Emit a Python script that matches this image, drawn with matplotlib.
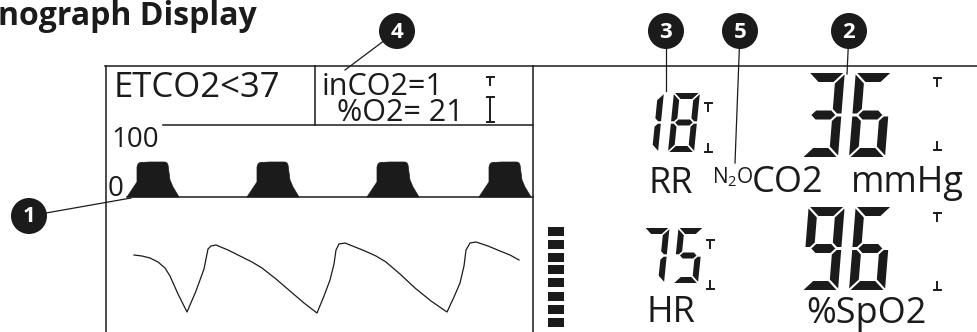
import matplotlib.pyplot as plt
from matplotlib.patches import Polygon, Circle

# ---- values shown on the display ----
title = "Capnograph Display"
etco2_alarm = "ETCO2<37"
inco2_text = "inCO2=1"
o2_text = "%O2= 21"
scale_top = "100"
scale_zero = "0"
rr_value = "18"
co2_value = "36"
hr_value = "75"
spo2_value = "96"
callouts = ["1", "2", "3", "4", "5"]

# capnogram breaths (start of each breath) and one breath profile
capno_starts = [127, 247, 367, 479]
breath_dx = [0, 6, 10, 10, 11, 13, 23, 38, 40, 41, 43, 46, 52]
breath_y = [197, 188, 182, 167, 164, 162.5, 162, 162, 163, 165, 180, 187, 197]

# pleth waveform
pleth_x = [134, 142, 150, 158, 165, 170, 178, 187, 196, 204, 206, 208, 211, 216, 228, 240,
           252, 262, 276, 290, 304, 317, 324, 330, 334, 336, 339, 345, 355, 365, 376, 386,
           400, 415, 431, 447, 454, 460, 464, 466, 470, 476, 488, 500, 510, 519]
pleth_y = [255, 256, 258, 262, 268, 276, 294, 312, 291, 269, 259, 249, 246, 245, 250, 256,
           262, 268, 279, 291, 303, 313, 296, 280, 264, 250, 244, 243, 247, 251, 256, 262,
           274, 288, 301, 312, 297, 283, 266, 250, 243, 242, 246, 251, 255, 260]

# pulse strength bar graph
strength_bars = [227, 240, 253, 265, 278, 292, 305, 318]

INK = "#1b1b1b"
FONT = ["Open Sans", "DejaVu Sans"]
plt.rcParams["mathtext.fontset"] = "custom"
plt.rcParams["mathtext.rm"] = "Open Sans"

fig = plt.figure(figsize=(9.77, 3.32), dpi=100)
ax = fig.add_axes([0, 0, 1, 1])
ax.set_xlim(0, 977)
ax.set_ylim(332, 0)
ax.axis("off")


def seven_seg(ch, x0, ybot, w, h, t, g=1.5, slant=0.1):
    ht = t / 2
    segs = {
        "a": [(g, h), (w - g, h), (w - t - g, h - t), (t + g, h - t)],
        "d": [(g, 0), (w - g, 0), (w - t - g, t), (t + g, t)],
        "g": [(ht + g, h / 2), (t + g, h / 2 + ht), (w - t - g, h / 2 + ht),
              (w - ht - g, h / 2), (w - t - g, h / 2 - ht), (t + g, h / 2 - ht)],
        "f": [(0, h / 2 + g), (0, h - g), (t, h - t - g), (t, h / 2 + ht + g), (ht, h / 2 + g)],
        "e": [(0, g), (t, t + g), (t, h / 2 - ht - g), (ht, h / 2 - g), (0, h / 2 - g)],
        "b": [(w, h / 2 + g), (w, h - g), (w - t, h - t - g), (w - t, h / 2 + ht + g), (w - ht, h / 2 + g)],
        "c": [(w, g), (w - t, t + g), (w - t, h / 2 - ht - g), (w - ht, h / 2 - g), (w, h / 2 - g)],
    }
    on = {"0": "abcdef", "1": "bc", "2": "abged", "3": "abgcd", "4": "fgbc",
          "5": "afgcd", "6": "afgedc", "7": "abc", "8": "abcdefg", "9": "abcdfg"}[ch]
    for s in on:
        pts = [(x0 + u + slant * v, ybot - v) for u, v in segs[s]]
        ax.add_patch(Polygon(pts, closed=True, fc=INK, ec="none"))


def limit_marks(x, top, bot, size=8, bar=3.5):
    # small "T" and upside-down T alarm limit markers
    ax.plot([x - bar, x + bar], [top, top], color=INK, lw=1.4)
    ax.plot([x, x], [top, top + size], color=INK, lw=1.4)
    ax.plot([x - bar, x + bar], [bot, bot], color=INK, lw=1.4)
    ax.plot([x, x], [bot, bot - size], color=INK, lw=1.4)


# title: the picture is cropped so that only "nograph Display" shows
renderer = fig.canvas.get_renderer()
probe = ax.text(0, 0, title[3:], fontsize=21, fontweight="bold", family=FONT)
shown_w = probe.get_window_extent(renderer).width
probe.remove()
tsize = 21 * 259 / shown_w
probe = ax.text(0, 0, title[:3], fontsize=tsize, fontweight="bold", family=FONT)
cut_w = probe.get_window_extent(renderer).width
probe.remove()
ax.text(-cut_w - 2, 25, title, ha="left", va="baseline", fontsize=tsize,
        fontweight="bold", family=FONT, color=INK)

# frame lines
lw = 1.1
ax.plot([105, 977], [66, 66], color=INK, lw=lw)
ax.plot([106, 106], [66, 332], color=INK, lw=lw)
ax.plot([315, 315], [66, 125], color=INK, lw=lw)
ax.plot([163, 533], [125, 125], color=INK, lw=lw)
ax.plot([533, 533], [66, 332], color=INK, lw=lw)
ax.plot([127, 533], [197, 197], color=INK, lw=lw)

# top-left texts
ax.text(114, 97, etco2_alarm, fontsize=25, family=FONT, color=INK, va="baseline")
ax.text(322, 95, inco2_text, fontsize=22, family=FONT, color=INK, va="baseline")
ax.text(337, 121, o2_text, fontsize=22, family=FONT, color=INK, va="baseline")
ax.plot([486.5, 493.5], [77, 77], color=INK, lw=1.4)
ax.plot([490, 490], [77, 85], color=INK, lw=1.4)
ax.plot([486.5, 493.5], [97, 97], color=INK, lw=1.4)
ax.plot([490, 490], [97, 122], color=INK, lw=1.4)
ax.plot([486.5, 493.5], [122, 122], color=INK, lw=1.4)
ax.text(111, 147, scale_top, fontsize=20, family=FONT, color=INK, va="baseline")
ax.text(108, 196, scale_zero, fontsize=20, family=FONT, color=INK, va="baseline")

# capnogram
for x0 in capno_starts:
    pts = [(x0 + dx, y) for dx, y in zip(breath_dx, breath_y)]
    ax.add_patch(Polygon(pts, closed=True, fc=INK, ec=INK, lw=0.5, joinstyle="round"))

# pleth
ax.plot(pleth_x, pleth_y, color=INK, lw=0.9)

# pulse strength bars
ax.barh(strength_bars, width=16, left=548, height=8.5, align="edge", color=INK)

# numeric readouts
seven_seg(rr_value[0], 632, 152, 26, 59, 6, g=1.2)
seven_seg(rr_value[1], 668, 152, 26, 59, 6, g=1.2)
seven_seg(co2_value[0], 802, 157, 36, 84, 9, slant=0.08)
seven_seg(co2_value[1], 849, 157, 36, 84, 9, slant=0.08)
seven_seg(hr_value[0], 639, 283, 25, 55, 6, g=1.2)
seven_seg(hr_value[1], 673, 283, 25, 55, 6, g=1.2)
seven_seg(spo2_value[0], 802, 290, 36, 83, 9, slant=0.08)
seven_seg(spo2_value[1], 849, 290, 36, 83, 9, slant=0.08)

limit_marks(708, 103, 152)
limit_marks(937, 78, 150)
limit_marks(710, 240, 289)
limit_marks(937, 213, 290)

# labels
ax.text(648, 193, "RR", fontsize=26, family=FONT, color=INK, va="baseline")
ax.text(712, 183, r"N$_2$O", fontsize=15, family=FONT, color=INK, va="baseline")
ax.text(752, 192, "CO2", fontsize=26, family=FONT, color=INK, va="baseline")
ax.text(851, 192, "mmHg", fontsize=26, family=FONT, color=INK, va="baseline")
ax.text(646, 322, "HR", fontsize=26, family=FONT, color=INK, va="baseline")
ax.text(806, 323, "%SpO2", fontsize=26, family=FONT, color=INK, va="baseline")

# callouts: (label, circle centre, leader end)
callout_pos = {"1": ((29, 216), (131, 198)), "2": ((849, 31), (847, 74)),
               "3": ((666, 31), (666, 91)), "4": ((397, 31), (345, 70)),
               "5": ((740, 31), (735, 163))}
for lab in callouts:
    (cx, cy), (ex, ey) = callout_pos[lab]
    ax.plot([cx, ex], [cy, ey], color=INK, lw=0.9)
    ax.add_patch(Circle((cx, cy), 18, fc=INK, ec="none", zorder=3))
    ax.text(cx, cy + 1, lab, ha="center", va="center", fontsize=16,
            fontweight="bold", family=FONT, color="white", zorder=4)

fig.savefig("out.png", dpi=100)
